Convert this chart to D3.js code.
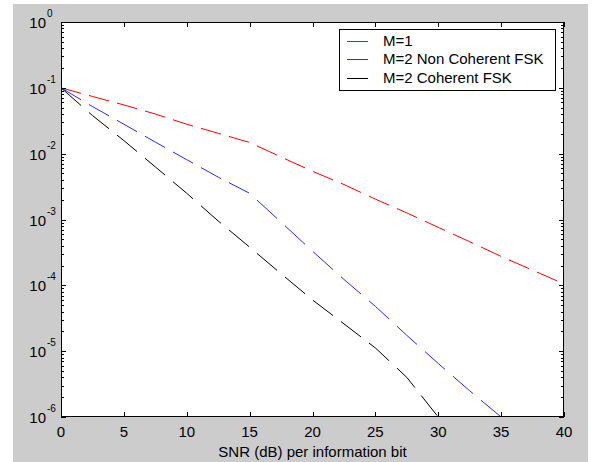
<!DOCTYPE html>
<html><head><meta charset="utf-8">
<script src="https://cdn.jsdelivr.net/npm/d3@7"></script>
<style>
body{margin:0;background:#fff}
svg{display:block}
text{font-family:"Liberation Sans",Arial,sans-serif;fill:#000}
</style>
</head><body>
<svg id="c" width="592" height="462"></svg>
<script>
// ---- data ----
const xTicks = [0, 5, 10, 15, 20, 25, 30, 35, 40];
const yExponents = [0, -1, -2, -3, -4, -5, -6];
const seriesNames = ["M=1", "M=2 Non Coherent FSK", "M=2 Coherent FSK"];
const seriesColors = ["#ff0000", "#2a2aff", "#000000"];
const xTitle = "SNR (dB) per information bit";

const snrM1 = [0, 2.5, 5, 7.5, 10, 12.5, 15, 17.5, 20, 22.5, 25, 27.5, 30, 32.5, 35, 37.5, 40];
const berM1 = [1.0e-1, 7.4e-2, 5.5e-2, 4.0e-2, 2.8e-2, 2.04e-2, 1.48e-2, 8.9e-3, 5.4e-3, 3.4e-3, 2.04e-3, 1.26e-3, 7.6e-4, 4.6e-4, 2.75e-4, 1.7e-4, 1.05e-4];

const snrNC = [0, 2.5, 5, 7.5, 10, 12.5, 15, 17.5, 20, 22.5, 25, 27.5, 30, 32.5, 35];
const berNC = [1.0e-1, 5.2e-2, 2.8e-2, 1.5e-2, 8.1e-3, 4.4e-3, 2.5e-3, 9.1e-4, 3.3e-4, 1.23e-4, 4.8e-5, 1.74e-5, 6.5e-6, 2.5e-6, 1.0e-6];

const snrC = [0, 2.5, 5, 7.5, 10, 12.5, 15, 17.5, 20, 22.5, 25, 27.5, 30];
const berC = [1.0e-1, 3.8e-2, 1.58e-2, 6.3e-3, 2.5e-3, 9.5e-4, 3.8e-4, 1.5e-4, 6.0e-5, 2.6e-5, 1.12e-5, 4.0e-6, 1.0e-6];

// ---- drawing ----
const svg = d3.select("#c");
svg.append("rect").attr("x", 13).attr("y", 4).attr("width", 575).attr("height", 458).attr("fill", "#cccccc");

const L = 61, R = 564, T = 22, B = 417;
const x = d3.scaleLinear().domain([0, 40]).range([L, R]);
const y = d3.scaleLog().domain([1e-6, 1]).range([B, T]);

svg.append("rect").attr("x", L).attr("y", T).attr("width", R - L).attr("height", B - T).attr("fill", "#fff");
svg.append("clipPath").attr("id", "clip").append("rect").attr("x", L).attr("y", T).attr("width", R - L).attr("height", B - T);

const series = [
  {xs: snrM1, ys: berM1},
  {xs: snrNC, ys: berNC},
  {xs: snrC, ys: berC}
];

// dashes counted in major-axis pixel steps (like the original raster renderer)
function dashedPath(pts, on, off) {
  let d = "", state = true, remain = on, pen = false;
  for (let i = 0; i < pts.length - 1; i++) {
    const [x0, y0] = pts[i], [x1, y1] = pts[i + 1];
    const dx = x1 - x0, dy = y1 - y0, Lc = Math.max(Math.abs(dx), Math.abs(dy));
    let t = 0;
    while (Lc > 0 && t < 1 - 1e-12) {
      const tEnd = Math.min(1, t + remain / Lc);
      if (state) {
        if (!pen) { d += `M${(x0 + dx * t).toFixed(2)},${(y0 + dy * t).toFixed(2)}`; pen = true; }
        d += `L${(x0 + dx * tEnd).toFixed(2)},${(y0 + dy * tEnd).toFixed(2)}`;
      }
      remain -= (tEnd - t) * Lc;
      t = tEnd;
      if (remain <= 1e-9) { state = !state; remain = state ? on : off; pen = false; }
    }
  }
  return d;
}

const gLines = svg.append("g").attr("clip-path", "url(#clip)");
series.forEach((s, i) => {
  const pts = s.xs.map((v, j) => [x(v), y(s.ys[j])]);
  gLines.append("path").attr("d", dashedPath(pts, 20, 8))
    .attr("fill", "none").attr("stroke", seriesColors[i]).attr("stroke-width", 1);
});

// axes box
svg.append("rect").attr("x", L + 0.5).attr("y", T + 0.5).attr("width", R - L - 1).attr("height", B - T - 1)
  .attr("fill", "none").attr("stroke", "#000").attr("stroke-width", 1);

const gt = svg.append("g").attr("stroke", "#000").attr("stroke-width", 1);
xTicks.forEach(v => {
  const px = Math.round(x(v)) + 0.5;
  gt.append("line").attr("x1", px).attr("x2", px).attr("y1", B).attr("y2", B - 5);
  gt.append("line").attr("x1", px).attr("x2", px).attr("y1", T).attr("y2", T + 5);
  svg.append("text").attr("x", x(v)).attr("y", 437).attr("text-anchor", "middle")
    .attr("font-size", 15).text(v);
});
yExponents.forEach(e => {
  const py = Math.round(y(Math.pow(10, e))) + 0.5;
  gt.append("line").attr("x1", L).attr("x2", L + 5).attr("y1", py).attr("y2", py);
  gt.append("line").attr("x1", R).attr("x2", R - 5).attr("y1", py).attr("y2", py);
  const ty = y(Math.pow(10, e));
  svg.append("text").attr("x", 46).attr("y", ty + 6).attr("text-anchor", "end").attr("font-size", 15).text("10");
  svg.append("text").attr("x", 47).attr("y", ty - 5).attr("text-anchor", "start").attr("font-size", 10).text(e);
  if (e > -6) {
    for (let k = 2; k <= 9; k++) {
      const my = Math.round(y(k * Math.pow(10, e - 1))) + 0.5;
      gt.append("line").attr("x1", L).attr("x2", L + 3).attr("y1", my).attr("y2", my);
      gt.append("line").attr("x1", R).attr("x2", R - 3).attr("y1", my).attr("y2", my);
    }
  }
});

svg.append("text").attr("x", x(20)).attr("y", 457).attr("text-anchor", "middle").attr("font-size", 15).text(xTitle);

// legend
const lg = svg.append("g");
lg.append("rect").attr("x", 339.5).attr("y", 29.5).attr("width", 216).attr("height", 61)
  .attr("fill", "#fff").attr("stroke", "#000").attr("stroke-width", 1);
const rowY = [40.5, 59, 77.5];
seriesNames.forEach((n, i) => {
  const ry = Math.round(rowY[i]) + 0.5;
  lg.append("line").attr("x1", 347).attr("x2", 368).attr("y1", ry).attr("y2", ry)
    .attr("stroke", seriesColors[i]).attr("stroke-width", 1);
  lg.append("text").attr("x", 383).attr("y", rowY[i] + 5).attr("font-size", 15).text(n);
});
</script>
</body></html>
